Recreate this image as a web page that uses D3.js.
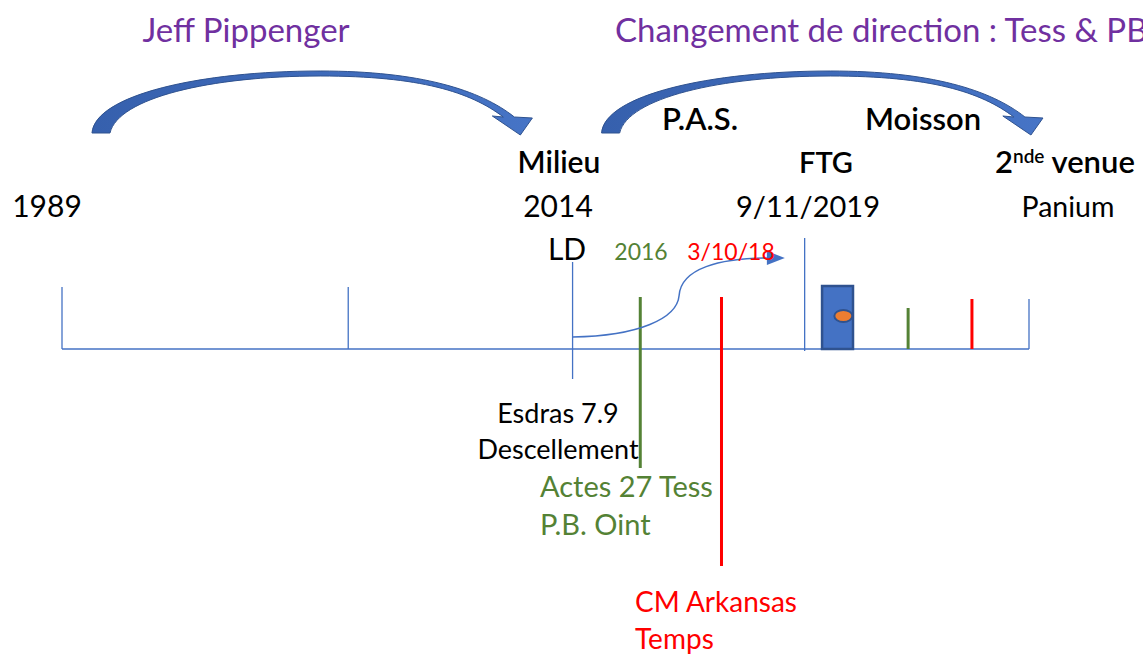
<!DOCTYPE html>
<html>
<head>
<meta charset="utf-8">
<script src="https://cdn.jsdelivr.net/npm/d3@7"></script>
<style>
    body { margin: 0; background: #fff; }
    svg { display: block; }
    text { font-family: Lato, "Noto Sans", sans-serif; }
</style>
</head>
<body>
<div id="chart"></div>
<script>
/**
 * Timeline data (positions along the line, 0 = 1989, 100 = end).
 */
const markerNames  = [ '1989', 'mid', 'LD', '2016', '3/10/18', 'FTG', 'green2', 'red2', 'end' ];
const markerPos    = [ 0, 29.6, 52.8, 59.8, 68.2, 76.8, 87.5, 94.1, 100 ];
const markerTop    = [ 62, 62, 87, 52, 52, 111, 41, 50, 50 ];    // extent above the line
const markerBottom = [ 0, 0, -30, -119, -217, -2, 0, 0, 0 ];      // extent below the line
const markerKind   = [ 'blue', 'blue', 'blue', 'green', 'red', 'blue', 'green', 'red', 'blue' ];

// Block after FTG, with its orange dot
const blockRange  = [ 78.6, 81.8 ];
const blockHeight = 63;
const dotPos = 80.8, dotLevel = 33;

// Big curved arrows: [from, to] along the line
const arcArrows = [ [ 3.1, 47.4 ], [ 55.8, 100.2 ] ];

// S-shaped arrow from LD towards FTG
const sArrow = { from: 52.8, to: 73.2, startLevel: 12, endLevel: 91 };

const colors = { blue: '#4472C4', green: '#548235', red: '#FF0000', purple: '#7030A0' };

/**
 * Visual configs.
 */
const visWidth = 1143, visHeight = 654;
const xScale = d3.scaleLinear().domain([ 0, 100 ]).range([ 62, 1029 ]);
const yScale = d3.scaleLinear().domain([ 0, 100 ]).range([ 349, 249 ]);

const svg = d3.select('#chart').append('svg')
    .attr('width', visWidth)
    .attr('height', visHeight);

const defs = svg.append('defs');
const grad = defs.append('linearGradient').attr('id', 'arcFill')
    .attr('x1', 0).attr('y1', 0).attr('x2', 1).attr('y2', 0);
grad.append('stop').attr('offset', '0%').attr('stop-color', '#3660AD');
grad.append('stop').attr('offset', '100%').attr('stop-color', '#4674C6');

/**
 * Big curved arrows (Office-like shape), size taken from the from/to span.
 */
function arcPath(x0, x1) {
    const k = (x1 - x0) / 428;
    const X = v => x0 + v * k;
    const p = d3.path();
    p.moveTo(X(0), 133);
    p.bezierCurveTo(X(3), 95, X(108), 71, X(228), 71);
    p.bezierCurveTo(X(328), 71, X(388), 90, X(422), 117);
    p.lineTo(X(440), 118);
    p.lineTo(X(428), 135);
    p.lineTo(X(400), 116);
    p.lineTo(X(411), 117);
    p.bezierCurveTo(X(378), 92, X(328), 76, X(228), 76);
    p.bezierCurveTo(X(118), 76, X(26), 98, X(18), 133);
    p.closePath();
    return p.toString();
}

svg.append('g').attr('class', 'arcs')
    .selectAll('path').data(arcArrows)
    .enter().append('path')
        .attr('d', d => arcPath(xScale(d[0]), xScale(d[1])))
        .attr('fill', 'url(#arcFill)')
        .attr('stroke', '#2F528F')
        .attr('stroke-width', 1);

/**
 * Timeline.
 */
const line = svg.append('g').attr('class', 'timeline');
line.append('line')
    .attr('x1', xScale(0)).attr('x2', xScale(100))
    .attr('y1', yScale(0)).attr('y2', yScale(0))
    .attr('stroke', colors.blue).attr('stroke-width', 1.5);

const markers = markerNames.map((name, i) => ({
    name, pos: markerPos[i], top: markerTop[i], bottom: markerBottom[i], kind: markerKind[i]
}));

line.selectAll('line.marker').data(markers)
    .enter().append('line')
        .attr('class', 'marker')
        .attr('x1', d => xScale(d.pos)).attr('x2', d => xScale(d.pos))
        .attr('y1', d => yScale(d.top)).attr('y2', d => yScale(d.bottom))
        .attr('stroke', d => colors[d.kind])
        .attr('stroke-width', d => d.kind === 'blue' ? 1.3 : 3);

// Block + dot
line.append('rect')
    .attr('x', xScale(blockRange[0]))
    .attr('y', yScale(blockHeight))
    .attr('width', xScale(blockRange[1]) - xScale(blockRange[0]))
    .attr('height', yScale(0) - yScale(blockHeight))
    .attr('fill', colors.blue)
    .attr('stroke', '#2F528F').attr('stroke-width', 2.5);
line.append('ellipse')
    .attr('cx', xScale(dotPos)).attr('cy', yScale(dotLevel))
    .attr('rx', 9).attr('ry', 6)
    .attr('fill', '#ED7D31')
    .attr('stroke', '#2F528F').attr('stroke-width', 2);

// S arrow
const sx0 = xScale(sArrow.from), sx1 = xScale(sArrow.to);
const sy0 = yScale(sArrow.startLevel), sy1 = yScale(sArrow.endLevel);
const sxm = sx0 + (sx1 - sx0) * 0.54, sym = (sy0 + sy1) / 2 - 2;
const sp = d3.path();
sp.moveTo(sx0, sy0);
sp.bezierCurveTo(sx0 + 66, sy0 - 1, sxm - 2, sym + 23, sxm, sym);
sp.bezierCurveTo(sxm + 2, sym - 27, sxm + 40, sy1, sx1, sy1);
line.append('path')
    .attr('d', sp.toString())
    .attr('fill', 'none')
    .attr('stroke', colors.blue).attr('stroke-width', 1.5);
line.append('path')
    .attr('d', `M${sx1 - 3},${sy1 - 7}L${sx1 + 15},${sy1}L${sx1 - 3},${sy1 + 7}Z`)
    .attr('fill', colors.blue);

/**
 * Labels.
 */
const labels = [
    { text: 'Jeff Pippenger', x: 246, y: 42, size: 33, color: colors.purple, anchor: 'middle' },
    { text: 'Changement de direction : Tess & PB', x: 615, y: 42, size: 33, color: colors.purple, anchor: 'start' },
    { text: 'P.A.S.', x: 700, y: 130, size: 31, weight: 600, anchor: 'middle' },
    { text: 'Moisson', x: 923, y: 130, size: 31, weight: 600, anchor: 'middle' },
    { text: 'Milieu', x: 559, y: 173, size: 30, weight: 600, anchor: 'middle' },
    { text: 'FTG', x: 826, y: 173, size: 29, weight: 600, anchor: 'middle' },
    { text: '1989', x: 47, y: 217, size: 30, anchor: 'middle' },
    { text: '2014', x: 558, y: 217, size: 30, anchor: 'middle' },
    { text: '9/11/2019', x: 808, y: 217, size: 29, anchor: 'middle' },
    { text: 'Panium', x: 1068, y: 217, size: 28.5, anchor: 'middle' },
    { text: 'LD', x: 567, y: 260, size: 30, anchor: 'middle' },
    { text: '2016', x: 641, y: 260, size: 23, color: colors.green, anchor: 'middle' },
    { text: '3/10/18', x: 731, y: 260, size: 23, color: colors.red, anchor: 'middle' },
    { text: 'Esdras 7.9', x: 558, y: 423, size: 27, anchor: 'middle' },
    { text: 'Descellement', x: 558, y: 459, size: 27, anchor: 'middle' },
    { text: 'Actes 27 Tess', x: 540, y: 497, size: 29, color: colors.green, anchor: 'start' },
    { text: 'P.B. Oint', x: 540, y: 535, size: 29, color: colors.green, anchor: 'start' },
    { text: 'CM Arkansas', x: 635, y: 612, size: 28, color: colors.red, anchor: 'start' },
    { text: 'Temps', x: 635, y: 649, size: 28, color: colors.red, anchor: 'start' }
];

const labelG = svg.append('g').attr('class', 'labels');
labelG.selectAll('text.lbl').data(labels)
    .enter().append('text')
        .attr('class', 'lbl')
        .attr('x', d => d.x).attr('y', d => d.y)
        .attr('text-anchor', d => d.anchor)
        .attr('font-size', d => d.size)
        .attr('font-weight', d => d.weight || 400)
        .attr('fill', d => d.color || '#000')
        .text(d => d.text);

// "2nde venue" with superscript
const venue = labelG.append('text')
    .attr('x', 995).attr('y', 173)
    .attr('font-size', 31).attr('font-weight', 600)
    .attr('fill', '#000');
venue.append('tspan').text('2');
venue.append('tspan').attr('dy', -10).attr('font-size', 19).text('nde');
venue.append('tspan').attr('dy', 10).text(' venue');
</script>
</body>
</html>
